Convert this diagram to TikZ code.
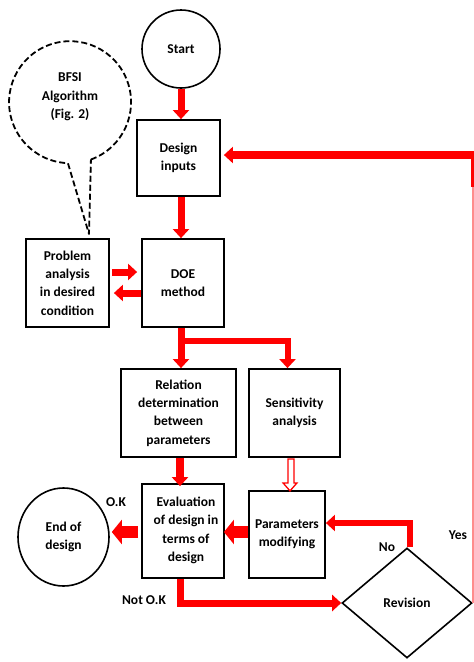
\documentclass[tikz,border=0pt]{standalone}
\usepackage{fontspec}
\setmainfont{Carlito}
\usetikzlibrary{arrows.meta,shapes.geometric,calc}
\begin{document}
\begin{tikzpicture}[x=1pt,y=-1pt,
  every node/.style={font=\fontsize{13.5}{18.3}\selectfont\bfseries, align=center, inner sep=0pt},
  box/.style={draw=black, line width=1.8pt, rectangle},
  circ/.style={draw=black, line width=1.6pt, circle},
  redarrow/.style={draw=red, line width=7pt, -{Triangle[width=16pt,length=9pt]}},
  bigarrow/.style={draw=red, line width=12pt, -{Triangle[width=24pt,length=10pt]}},
  redline/.style={draw=red, line width=7pt},
  lbl/.style={font=\fontsize{13.5}{18.3}\selectfont\bfseries}
]
\useasboundingbox (0,0) rectangle (474,662);
\fill[white] (0,0) rectangle (474,662);

% nodes
\node[circ, minimum size=78pt] (start) at (181,49) {Start};
\node[box, minimum width=83pt, minimum height=76pt] (din) at (178.5,158) {Design\\inputs};
\node[box, minimum width=82pt, minimum height=88pt] (doe) at (183,283) {DOE\\method};
\node[box, minimum width=83pt, minimum height=88pt] (prob) at (67.5,283) {Problem\\analysis\\in desired\\condition};
\node[box, minimum width=115pt, minimum height=88pt] (rel) at (178.5,413) {Relation\\determination\\between\\parameters};
\node[box, minimum width=91pt, minimum height=88pt] (sens) at (294.5,413) {Sensitivity\\analysis};
\node[box, minimum width=82pt, minimum height=94pt] (eval) at (183,531) {};
\node (evaltext) at (186,530.5) {Evaluation\\of design in\\terms of\\design};
\node[box, minimum width=76pt, minimum height=87pt] (params) at (287,534.5) {Parameters\\modifying};
\node[draw=black, line width=1.6pt, ellipse, minimum width=91pt, minimum height=98pt] (endd) at (63.5,537) {End of\\design};
\node[draw=black, line width=1.6pt, diamond, minimum width=130pt, minimum height=110pt] (rev) at (407,603) {Revision};

% BFSI callout
\node[circle, minimum size=122pt] (bfsic) at (70,102) {};
\node (bfsi) at (70,97) {BFSI\\Algorithm\\(Fig. 2)};
\coordinate (tip) at (89,234);
\draw[line width=1.8pt, dash pattern=on 6pt off 3pt, line join=round]
  (bfsic.-70) arc[start angle=-70, end angle=268, radius=61pt] -- (tip) -- cycle;

% labels
\node[lbl] (ok) at (116,502) {O.K};
\node[lbl] (notok) at (144,600) {Not O.K};
\node[lbl] (no) at (387,547) {No};
\node[lbl] (yes) at (458,535) {Yes};

% connectors
\draw[redarrow] (start.south) -- (start.south |- din.north);
\draw[redarrow] (din.south -| 181,0) -- (doe.north -| 181,0);
\draw[redarrow, shorten <=2pt, shorten >=4pt] ($(prob.east)+(0,-11)$) -- ($(doe.west)+(0,-11)$);
\draw[redarrow, shorten >=4pt] ($(doe.west)+(0,10)$) -- ($(prob.east)+(0,10)$);
\draw[redarrow] (doe.south -| 181,0) -- (rel.north -| 181,0);
\coordinate (fork) at ($(doe.south -| 181,0)+(0,13)$);
\draw[redarrow, line width=6pt] (fork) -| ($(sens.north)+(-7,0)$);
\draw[redarrow, line width=8pt] (rel.south -| 180,0) -- ($(eval.north -| 180,0)+(0,3)$);
% hollow arrow
\draw[red, line width=1.3pt, fill=white, line join=miter]
  ($(sens.south)+(-6.5,1)$) -- ($(sens.south)+(-0.5,1)$) -- ($(sens.south)+(-0.5,25)$)
  -- ($(sens.south)+(2.5,25)$) -- ($(sens.south)+(-4.5,33)$) -- ($(sens.south)+(-11.5,25)$)
  -- ($(sens.south)+(-6.5,25)$) -- cycle;
\draw[bigarrow] ($(params.west)+(0,-2.5)$) -- ($(eval.east)+(-1,1)$);
\draw[bigarrow, shorten >=2pt] ($(eval.west)+(-3,1)$) -- (endd.east |- 0,532);
\draw[redarrow, line width=7pt] (eval.south -| 180,0) |- (rev.west);
\draw[redarrow, line width=6pt] ($(rev.north)+(3,0)$) |- ($(params.east)+(0,-11.5)$);
% Yes branch
\coordinate (yescorner) at (472.5,155);
\draw[red!45, line width=1.4pt] (rev.east) -- (rev.east |- yescorner);
\draw[red, line width=3pt] (yescorner) -- ++(0,32);
\draw[redarrow, line width=8pt, shorten >=3pt] ($(yescorner)+(4,0)$) -- (din.east |- yescorner);
\end{tikzpicture}
\end{document}
